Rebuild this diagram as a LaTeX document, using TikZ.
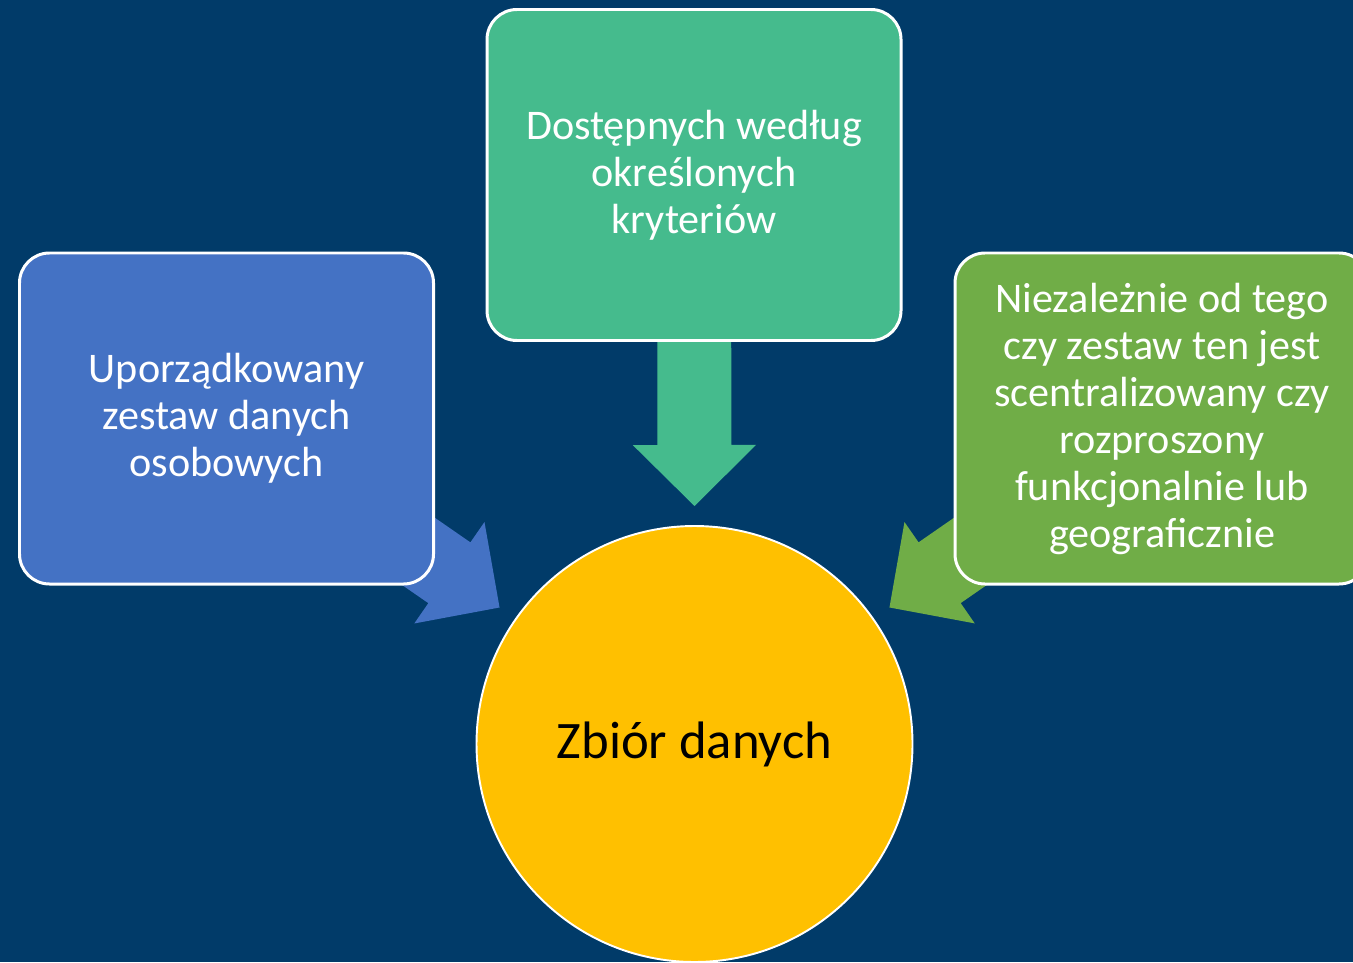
\documentclass[tikz,border=0pt]{standalone}
\usepackage{fontspec}
\setmainfont{Carlito}
\usetikzlibrary{calc}
\definecolor{navy}{HTML}{013B69}
\definecolor{leftblue}{HTML}{4472C4}
\definecolor{topgreen}{HTML}{45BB8D}
\definecolor{rightgreen}{HTML}{70AD47}
\definecolor{gold}{HTML}{FFC000}
\pgfdeclarelayer{behind}
\pgfsetlayers{behind,main}
\tikzset{
  box/.style={draw=white, line width=1.7pt, rounded corners=0.6cm, minimum width=8.28cm, minimum height=6.62cm,
    inner sep=0pt, align=center, text=white, font=\fontsize{24}{26.75}\selectfont},
  hub/.style={circle, draw=white, line width=1.1pt, fill=gold, minimum size=8.72cm, font=\fontsize{30}{36}\selectfont}
}

\begin{document}
\begin{tikzpicture}
\useasboundingbox (0,0) rectangle (27.06,19.24);
\clip (0,0) rectangle (27.06,19.24);
\node[box, fill=topgreen] (kryteria) at (13.88,15.74) {Dostępnych według\\określonych\\kryteriów};
\node[box, fill=leftblue] (zestaw) at (4.53,10.87) {Uporządkowany\\zestaw danych\\osobowych};
\node[box, fill=rightgreen] (rozproszenie) at (23.24,10.87) {Niezależnie od tego\\czy zestaw ten jest\\scentralizowany czy\\rozproszony\\funkcjonalnie lub\\geograficznie};
\node[hub] (zbior) at (13.89,4.36) {Zbiór danych};
\begin{pgfonlayer}{behind}
\fill[navy] (0,0) rectangle (27.06,19.24);
\foreach \src/\ang/\col in {kryteria/90/topgreen, zestaw/145/leftblue, rozproszenie/35/rightgreen}{
  \coordinate (tip) at ($(zbior.center)+(\ang:4.76)$);
  \fill[\col] (tip) -- ($(tip)!1.735cm!45.3:(\src.center)$) -- ($(tip)!1.427cm!31.2:(\src.center)$)
    -- ($(\src.center)!0.74cm!-90:(tip)$) -- ($(\src.center)!0.74cm!90:(tip)$)
    -- ($(tip)!1.427cm!-31.2:(\src.center)$) -- ($(tip)!1.735cm!-45.3:(\src.center)$) -- cycle;
}
\end{pgfonlayer}
\end{tikzpicture}
\end{document}
